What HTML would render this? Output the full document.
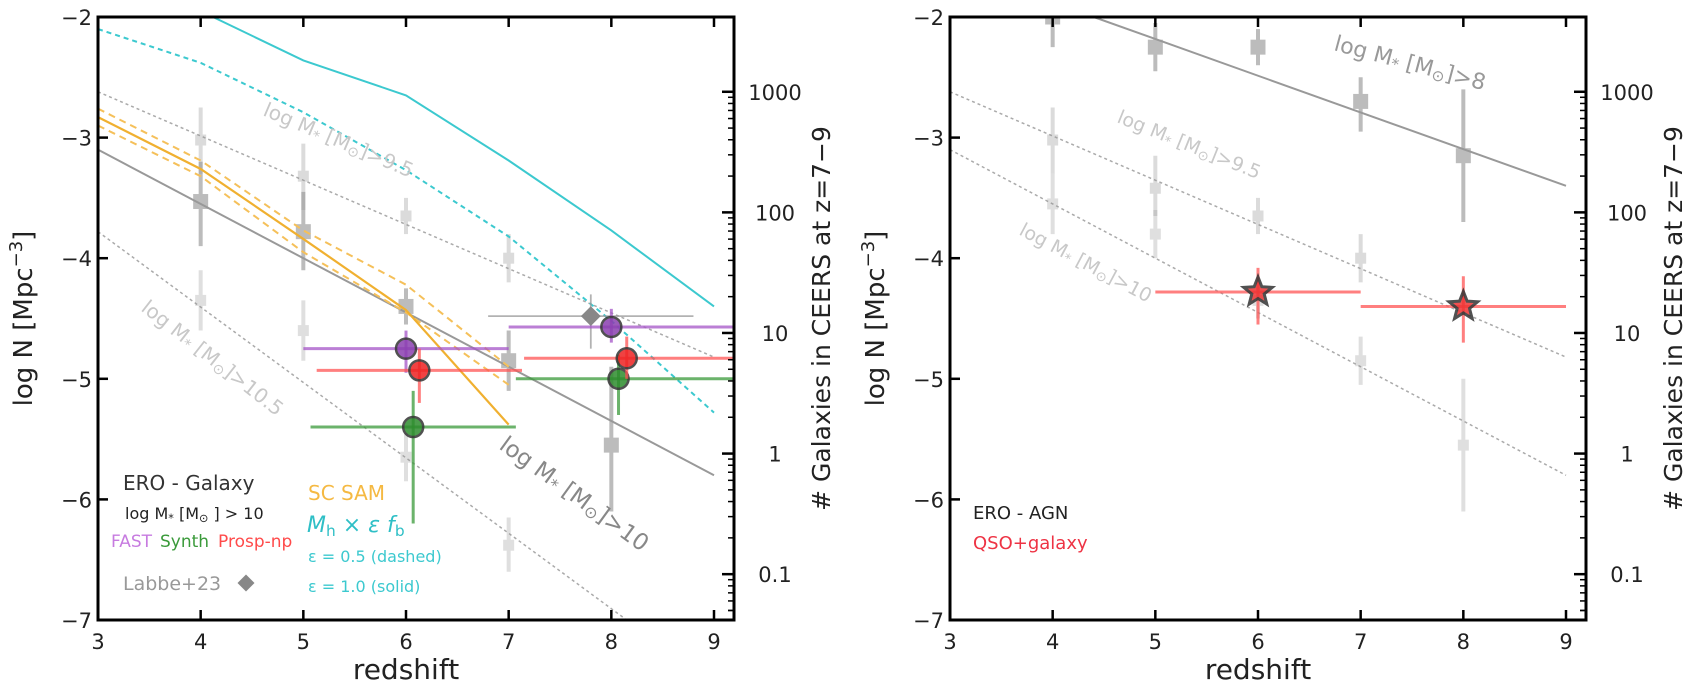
<!DOCTYPE html>
<html><head><meta charset="utf-8"><style>
html,body{margin:0;padding:0;background:#fff;width:1704px;height:695px;overflow:hidden}
svg text{font-family:"DejaVu Sans","Liberation Sans",sans-serif}
</style></head><body>
<svg id="chart" width="1704" height="695" viewBox="0 0 1704 695" xmlns="http://www.w3.org/2000/svg">
<g id="L"></g>
<g id="R"></g>
</svg>
<script>
// ---- data ----
const xTicks=[3,4,5,6,7,8,9];
const yTicks=[-2,-3,-4,-5,-6,-7];
const countTicks=[1000,100,10,1,0.1];
const countTickLabels=["1000","100","10","1","0.1"];
const logVolume=5.62;
// reference mass-function lines [z0,logN0,z1,logN1]
const leftRefLines=[[3,-3.1,9,-5.8,'solid'],[3,-2.62,9,-4.82,'dot'],[3,-3.78,8.15,-7,'dot']];
const rightRefLines=[[4.4,-2,9,-3.4,'solid'],[3,-2.62,9,-4.82,'dot'],[3,-3.1,9,-5.8,'dot']];
// gray squares [z, logN, lo, hi]
const sqM10=[[4,-3.53,-3.9,-3.2],[5,-3.78,-4.1,-3.45],[6,-4.4,-4.55,-4.25],[7,-4.85,-5.1,-4.6],[8,-5.55,-6.1,-4.9]];
const sqM95=[[4,-3.02,-3.3,-2.75],[5,-3.32,-3.6,-3.05],[6,-3.65,-3.8,-3.5],[7,-4.0,-4.2,-3.8]];
const sqM105=[[4,-4.35,-4.6,-4.1],[5,-4.6,-4.85,-4.35],[6,-5.65,-5.85,-5.45],[7,-6.38,-6.6,-6.15]];
const sqM8=[[4,-2.0,-2.25,-1.9],[5,-2.25,-2.45,-2.05],[6,-2.25,-2.4,-2.1],[7,-2.7,-2.95,-2.5],[8,-3.15,-3.7,-2.6]];
const sqM95R=[[4,-3.02,-3.3,-2.75],[5,-3.42,-3.65,-3.15],[6,-3.65,-3.8,-3.5],[7,-4.0,-4.2,-3.8]];
const sqM10R=[[4,-3.55,-3.8,-3.3],[5,-3.8,-4.0,-3.6],[6,-4.35,-4.5,-4.2],[7,-4.85,-5.05,-4.65],[8,-5.55,-6.1,-5.0]];
// models
const samZ=[3,4,5,6,7];
const samSolid=[-2.83,-3.26,-3.84,-4.43,-5.38];
const samHi=[-2.76,-3.19,-3.77,-4.22,-4.9];
const samLo=[-2.9,-3.32,-3.95,-4.45,-5.05];
const cyZ=[4.12,5,6,7,8,9];
const cySolid=[-2,-2.36,-2.65,-3.19,-3.77,-4.4];
const cdZ=[3,4,5,6,7,8,9];
const cyDashed=[-2.1,-2.38,-2.79,-3.27,-3.82,-4.52,-5.28];
// measured points [z, logN, zlo, zhi, lo, hi]
const fast=[[6,-4.75,5,7,-4.95,-4.6],[8,-4.57,7,9.2,-4.7,-4.42]];
const prosp=[[6.13,-4.93,5.13,7.13,-5.2,-4.75],[8.15,-4.83,7.15,9.2,-5.0,-4.65]];
const synth=[[6.07,-5.4,5.07,7.07,-6.2,-5.1],[8.07,-5.0,7.07,9.2,-5.3,-4.8]];
const labbe=[[7.8,-4.48,6.8,8.8,-4.75,-4.3]];
const qso=[[6,-4.28,5,7,-4.55,-4.08],[8,-4.4,7,9,-4.7,-4.15]];

const NS='http://www.w3.org/2000/svg';
function mk(p,tag,a,txt){const e=document.createElementNS(NS,tag);for(const k in a)e.setAttribute(k,a[k]);if(txt!==undefined)e.textContent=txt;p.appendChild(e);return e;}
const Y0=17, YU=120.6;
function panel(g,x0,x9,right){
  const sx=z=>x0+(z-3)*(x9-x0)/6, sy=v=>Y0+(-2-v)*YU;
  const sc=c=>sy(Math.log10(c)-logVolume);
  const L=sx(3),T=sy(-2),B=sy(-7);
  const cp='clip'+x0;
  const d=mk(g,'defs',{});const c=mk(d,'clipPath',{id:cp});mk(c,'rect',{x:L,y:T,width:right-L,height:B-T});
  const plot=mk(g,'g',{'clip-path':'url(#'+cp+')'});
  
  return {sx,sy,sc,L,T,B,plot,right};
}
function axes(g,P){
  const {sx,sy,sc,L,T,B,right}=P;
  const ax=mk(g,'g',{});
  mk(ax,'rect',{x:L,y:T,width:right-L,height:B-T,fill:'none',stroke:'#000','stroke-width':3});
  xTicks.forEach(t=>{const x=sx(t);mk(ax,'line',{x1:x,x2:x,y1:B,y2:B-10,stroke:'#000','stroke-width':2.5});mk(ax,'line',{x1:x,x2:x,y1:T,y2:T+10,stroke:'#000','stroke-width':2.5});
    const tl=mk(ax,'text',{x:x,y:B+29,'font-size':21,'text-anchor':'middle',fill:'#222'},String(t));});
  yTicks.forEach(t=>{const y=sy(t);mk(ax,'line',{x1:L,x2:L+10,y1:y,y2:y,stroke:'#000','stroke-width':2.5});
    const tl=mk(ax,'text',{x:L-6,y:y+8,'font-size':21,'text-anchor':'end',fill:'#222'},String(t).replace('-','\u2212'));});
  countTicks.forEach((c,i)=>{const y=sc(c);mk(ax,'line',{x1:right,x2:right-12,y1:y,y2:y,stroke:'#000','stroke-width':2.5});
    for(let m=2;m<10;m++){const ym=sc(c*m/10);if(ym>T&&ym<B)mk(ax,'line',{x1:right,x2:right-6,y1:ym,y2:ym,stroke:'#000','stroke-width':1.5});}
    const tl=mk(ax,'text',{x:right+41,y:y+8,'font-size':21,'text-anchor':'middle',fill:'#222'},countTickLabels[i]);});
  {const ym=sc(0.05);mk(ax,'line',{x1:right,x2:right-6,y1:ym,y2:ym,stroke:'#000','stroke-width':1.5});}
  const xl=mk(ax,'text',{x:(L+right)/2-10,y:B+59,'font-size':28,'text-anchor':'middle',fill:'#222'},'redshift');
  const yl=mk(ax,'text',{x:0,y:0,'font-size':26,'text-anchor':'middle',fill:'#222',transform:`translate(${L-66},${(T+B)/2}) rotate(-90)`});
  
  yl.innerHTML='log N [Mpc<tspan dy="-10" font-size="18">\u22123</tspan><tspan dy="10">]</tspan>';
  const yr=mk(ax,'text',{x:0,y:0,'font-size':25,'text-anchor':'middle',fill:'#222',transform:`translate(${right+96},${(T+B)/2}) rotate(-90)`},'# Galaxies in CEERS at z=7\u22129');
  
}
function refLines(P,arr,name){arr.forEach(r=>{const l=mk(P.plot,'line',{x1:P.sx(r[0]),y1:P.sy(r[1]),x2:P.sx(r[2]),y2:P.sy(r[3]),stroke:r[4]=='solid'?'#999':'#aaa','stroke-width':r[4]=='solid'?2:1.5,'stroke-dasharray':r[4]=='solid'?'none':'3,3'});
  });}
function squares(P,arr,size,op,name){arr.forEach(s=>{const g=mk(P.plot,'g',{opacity:op});
  
  const x=P.sx(s[0]);mk(g,'line',{x1:x,x2:x,y1:P.sy(s[2]),y2:P.sy(s[3]),stroke:'#999','stroke-width':4});
  mk(g,'rect',{x:x-size/2,y:P.sy(s[1])-size/2,width:size,height:size,fill:'#999'});});}
function poly(P,zs,vs,color,dash,w,name){const pts=zs.map((z,i)=>P.sx(z)+','+P.sy(vs[i])).join(' ');
  const p=mk(P.plot,'polyline',{points:pts,fill:'none',stroke:color,'stroke-width':w,'stroke-dasharray':dash});
  }
function points(P,arr,color,fill,shape,name){arr.forEach(p=>{const g=mk(P.plot,'g',{});
  
  const x=P.sx(p[0]),y=P.sy(p[1]);
  const w=shape=='diamond'?1.8:3;
  mk(g,'line',{x1:P.sx(p[2]),x2:P.sx(p[3]),y1:y,y2:y,stroke:color,'stroke-width':w,opacity:0.75});
  mk(g,'line',{x1:x,x2:x,y1:P.sy(p[4]),y2:P.sy(p[5]),stroke:color,'stroke-width':w,opacity:0.75});
  if(shape=='circle')mk(g,'circle',{cx:x,cy:y,r:10,fill:fill,stroke:'#333','stroke-width':2.5,opacity:0.85});
  else if(shape=='diamond')mk(g,'rect',{x:x-7,y:y-7,width:14,height:14,fill:'#888',transform:`rotate(45 ${x} ${y})`});
  else{let s='';for(let k=0;k<10;k++){const r=k%2?6.5:15,a=-Math.PI/2+k*Math.PI/5;s+=(x+r*Math.cos(a))+','+(y+r*Math.sin(a))+' ';}
    mk(g,'polygon',{points:s,fill:'#e33',stroke:'#333','stroke-width':3,opacity:0.85});}});}
function txt(g,x,y,size,color,s,rot,name,html){const t=mk(g,'text',{x:x,y:y,'font-size':size,fill:color,transform:rot?`rotate(${rot} ${x} ${y})`:''});
  if(html)t.innerHTML=s;else t.textContent=s;return t;}
const mlab=(a)=>'log  M<tspan font-size="70%" dy="3">*</tspan><tspan dy="-3"> [M</tspan><tspan font-size="70%" dy="3">\u2299</tspan><tspan dy="-3">]&gt;'+a+'</tspan>';

// LEFT
const gL=document.getElementById('L');
const PL=panel(gL,98,714,734);
refLines(PL,leftRefLines,'mass-limit-line');
squares(PL,sqM95,11,0.35,'data-square-m9.5');
squares(PL,sqM105,11,0.3,'data-square-m10.5');
squares(PL,sqM10,15,0.65,'data-square-m10');
poly(PL,cdZ,cyDashed,'#3cc9cf','5,4',2,'cyan-dashed-eps0.5');
poly(PL,cyZ,cySolid,'#3cc9cf','none',2,'cyan-solid-eps1');
poly(PL,samZ,samHi,'#f5c05a','7,5',2,'sam-upper-dashed');
poly(PL,samZ,samLo,'#f5c05a','7,5',2,'sam-lower-dashed');
poly(PL,samZ,samSolid,'#f0b030','none',2.2,'sam-solid');
points(PL,labbe,'#999','#888','diamond','labbe23-point');
points(PL,fast,'#a555c8','#8a3fb0','circle','fast-point');
points(PL,synth,'#3a9a3a','#2d8c2d','circle','synth-point');
points(PL,prosp,'#ff5555','#ee2222','circle','prosp-point');
txt(gL,262,115,20,'#c8c8c8',mlab('9.5'),23,'label-m9.5',1);
txt(gL,140,310,20,'#c8c8c8',mlab('10.5'),38,'label-m10.5',1);
txt(gL,498,448,23,'#888',mlab('10'),36,'label-m10',1);
txt(gL,123,490,20,'#333','ERO - Galaxy',0,'legend-ero-galaxy');
txt(gL,125,519,16,'#222','log  M<tspan font-size="70%" dy="3">*</tspan><tspan dy="-3"> [M</tspan><tspan font-size="70%" dy="3">\u2299</tspan><tspan dy="-3"> ] &gt; 10</tspan>',0,'legend-mass-cut',1);
txt(gL,111,547,17,'#c77be0','FAST',0,'legend-fast');
txt(gL,160,547,17,'#3a9a3a','Synth',0,'legend-synth');
txt(gL,218,547,17,'#ff4a4a','Prosp-np',0,'legend-prosp');
txt(gL,123,590,19,'#999','Labbe+23',0,'legend-labbe');
{const d=mk(gL,'rect',{x:240,y:577,width:12,height:12,fill:'#888',transform:'rotate(45 246 583)'});}
txt(gL,308,500,20,'#f5b942','SC SAM',0,'legend-sc-sam');
txt(gL,307,532,22,'#2fbfc6','<tspan font-style="italic">M</tspan><tspan font-size="70%" dy="4">h</tspan><tspan dy="-4"> \u00d7 </tspan><tspan font-style="italic">\u03b5 f</tspan><tspan font-size="70%" dy="4">b</tspan>',0,'legend-mh-eps-fb',1);
txt(gL,308,562,16,'#3cc9cf','\u03b5 = 0.5 (dashed)',0,'legend-eps05');
txt(gL,308,592,16,'#3cc9cf','\u03b5 = 1.0 (solid)',0,'legend-eps10');
axes(gL,PL);

// RIGHT
const gR=document.getElementById('R');
const PR=panel(gR,950,1566,1586);
refLines(PR,rightRefLines,'mass-limit-line');
squares(PR,sqM95R,11,0.35,'data-square-m9.5');
squares(PR,sqM10R,11,0.3,'data-square-m10');
squares(PR,sqM8,15,0.65,'data-square-m8');
points(PR,qso,'#ff5555','#e33','star','qso-galaxy-point');
txt(gR,1333,50,22,'#999',mlab('8'),15,'label-m8',1);
txt(gR,1116,122,19,'#c8c8c8',mlab('9.5'),22,'label-m9.5',1);
txt(gR,1018,234,19,'#c8c8c8',mlab('10'),28,'label-m10',1);
txt(gR,973,519,18,'#222','ERO - AGN',0,'legend-ero-agn');
txt(gR,973,549,18,'#ee3344','QSO+galaxy',0,'legend-qso-galaxy');
axes(gR,PR);
</script>
</body></html>
